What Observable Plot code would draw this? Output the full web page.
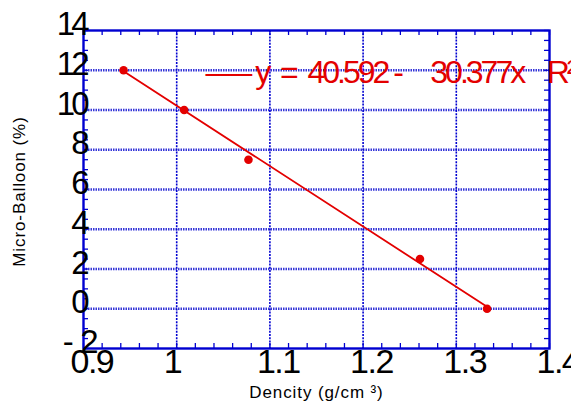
<!DOCTYPE html>
<html><head><meta charset="utf-8">
<script src="https://cdn.jsdelivr.net/npm/d3@7"></script>
<script src="https://cdn.jsdelivr.net/npm/@observablehq/plot@0.6"></script>
<style>
body{margin:0;background:#fff;}
#chart svg{overflow:hidden;}
g[font-size="34"] text{letter-spacing:-1.5px;}
g[font-size="33"] text{letter-spacing:-4px;white-space:pre;}
g[font-size="32"] text{letter-spacing:-3px;white-space:pre;}
g[font-size="17"] text{letter-spacing:0.9px;}
</style>
</head><body><div id="chart"></div>
<script>
// Data
const density = [0.943, 1.008, 1.077, 1.261, 1.333];
const microBalloon = [12, 10, 7.5, 2.5, 0];
const intercept = 40.592;
const slope = -30.377;
const xTicks = [0.9, 1.0, 1.1, 1.2, 1.3, 1.4];
const xTickLabels = ["0.9", "1", "1.1", "1.2", "1.3", "1.4"];
const yTicks = [0, 2, 4, 6, 8, 10, 12, 14];
const yTickLabels = ["0", "2", "4", "6", "8", "10", "12", "14"];
const yNegTick = [-2];
const yNegLabel = ["-  2"];
const xTitle = "Dencity (g/cm ³)";
const yTitle = "Micro-Balloon (%)";
const legendText = "—– y  =  40.592 -     30.377x    R² = 0.98";

const W = 571, H = 403;
const mL = 83, mR = 22, mT = 30, mB = 55;
const innerW = W - mL - mR, innerH = H - mT - mB;

const xMinor = d3.range(0.9, 1.4001, 0.02);
const yMinor = d3.range(-2, 14.001, 0.5);

const points = density.map((d, i) => ({x: d, y: microBalloon[i]}));
const fit = [density[0], density[density.length - 1]].map(x => ({x, y: intercept + slope * x}));

const blue = "#0000d0";
const red = "#e30000";

const chart = Plot.plot({
  width: W, height: H,
  marginLeft: mL, marginRight: mR, marginTop: mT, marginBottom: mB,
  style: {fontFamily: "Liberation Sans, Arial, sans-serif", background: "#fff"},
  x: {domain: [0.9, 1.4], axis: null},
  y: {domain: [-2, 14], axis: null},
  marks: [
    Plot.ruleY(yTicks.slice(0, -1), {stroke: "#3535d8", strokeWidth: 2.4, strokeDasharray: "1.5,1"}),
    Plot.ruleX(xTicks.slice(1, -1), {stroke: blue, strokeWidth: 1.6, strokeDasharray: "2,1.2"}),
    // minor ticks, inward on all four sides
    Plot.ruleX(xMinor, {stroke: blue, strokeWidth: 1.3, insetTop: innerH - 5}),
    Plot.ruleX(xMinor, {stroke: blue, strokeWidth: 1.3, insetBottom: innerH - 5}),
    Plot.ruleY(yMinor, {stroke: blue, strokeWidth: 1.3, insetRight: innerW - 5}),
    Plot.ruleY(yMinor, {stroke: blue, strokeWidth: 1.3, insetLeft: innerW - 5}),
    Plot.frame({stroke: blue, strokeWidth: 2.4}),
    Plot.line(fit, {x: "x", y: "y", stroke: red, strokeWidth: 1.8}),
    Plot.dot(points, {x: "x", y: "y", r: 4.3, fill: red}),
    // tick labels
    Plot.text(xTicks, {x: d => d, text: (d, i) => xTickLabels[i], frameAnchor: "bottom", textAnchor: "start", lineAnchor: "top", dx: -13, dy: 0, fontSize: 34, fill: "#000"}),
    Plot.text(yTicks, {y: d => d, text: (d, i) => yTickLabels[i], frameAnchor: "left", textAnchor: "end", dx: 2, dy: -6, fontSize: 33, fill: "#000"}),
    Plot.text(yNegTick, {y: d => d, text: (d, i) => yNegLabel[i], frameAnchor: "left", textAnchor: "end", dx: 11, dy: -6, fontSize: 33, fill: "#000"}),
    // axis titles
    Plot.text([xTitle], {text: d => d, frameAnchor: "bottom", textAnchor: "middle", dy: 49, fontSize: 17, fill: "#000"}),
    Plot.text([yTitle], {text: d => d, frameAnchor: "left", textAnchor: "middle", rotate: -90, dx: -64, dy: 2, fontSize: 17, fill: "#000"}),
    // regression legend
    Plot.text([legendText], {text: d => d, frameAnchor: "top-left", textAnchor: "start", lineAnchor: "top", dx: 122, dy: 30, fontSize: 32, fill: red})
  ]
});
document.getElementById("chart").append(chart);
</script>
</body></html>
